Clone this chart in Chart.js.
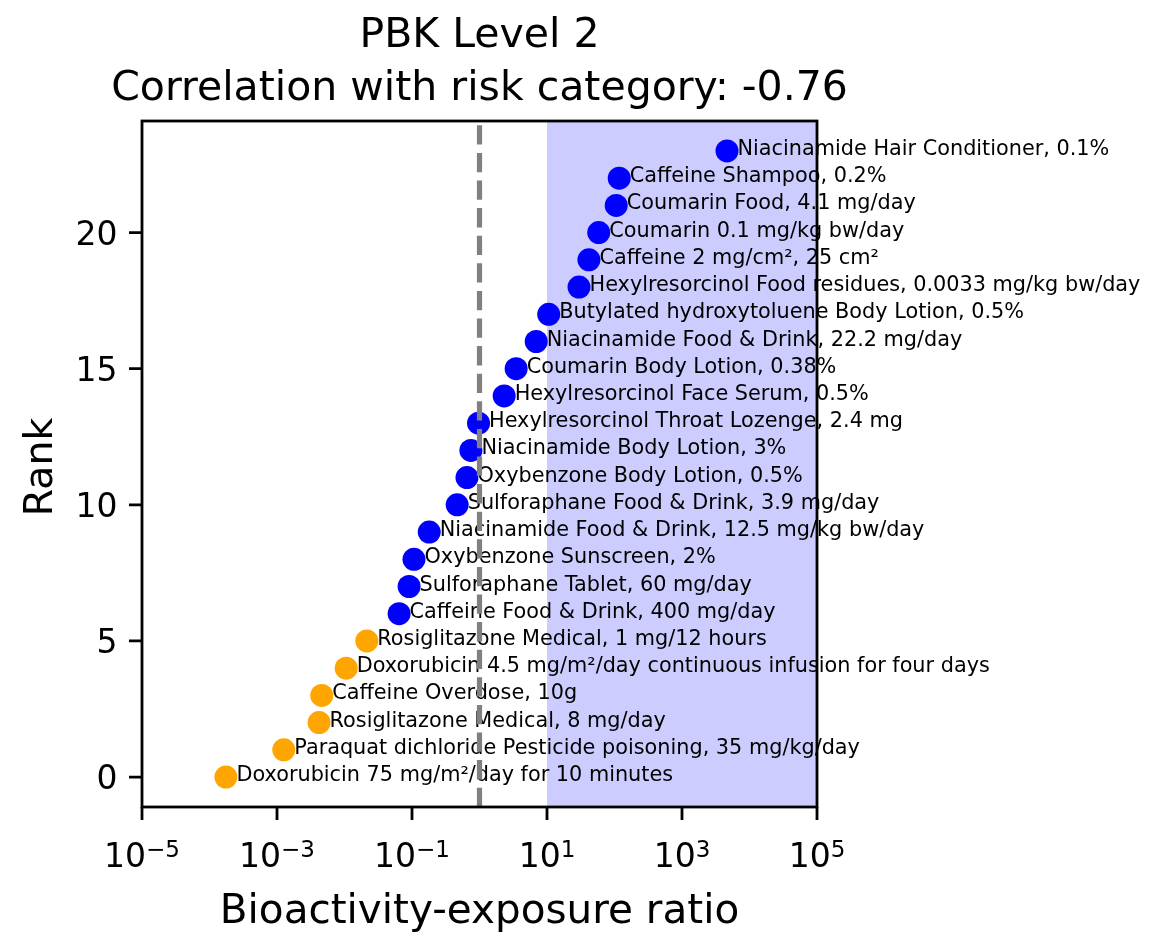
<!DOCTYPE html>
<html><head><meta charset="utf-8">
<script src="https://cdn.jsdelivr.net/npm/chart.js@4.4.0/dist/chart.umd.min.js"></script>
<style>html,body{margin:0;padding:0;background:#fff;} canvas{display:block;}</style>
</head><body>
<canvas id="c" width="1151" height="937"></canvas>
<script>
// ---- data ----
const titleLines = ['PBK Level 2', 'Correlation with risk category: -0.76'];
const xAxisLabel = 'Bioactivity-exposure ratio';
const yAxisLabel = 'Rank';
const labels = [
  'Doxorubicin 75 mg/m\u00b2/day for 10 minutes',
  'Paraquat dichloride Pesticide poisoning, 35 mg/kg/day',
  'Rosiglitazone Medical, 8 mg/day',
  'Caffeine Overdose, 10g',
  'Doxorubicin 4.5 mg/m\u00b2/day continuous infusion for four days',
  'Rosiglitazone Medical, 1 mg/12 hours',
  'Caffeine Food & Drink, 400 mg/day',
  'Sulforaphane Tablet, 60 mg/day',
  'Oxybenzone Sunscreen, 2%',
  'Niacinamide Food & Drink, 12.5 mg/kg bw/day',
  'Sulforaphane Food & Drink, 3.9 mg/day',
  'Oxybenzone Body Lotion, 0.5%',
  'Niacinamide Body Lotion, 3%',
  'Hexylresorcinol Throat Lozenge, 2.4 mg',
  'Hexylresorcinol Face Serum, 0.5%',
  'Coumarin Body Lotion, 0.38%',
  'Niacinamide Food & Drink, 22.2 mg/day',
  'Butylated hydroxytoluene Body Lotion, 0.5%',
  'Hexylresorcinol Food residues, 0.0033 mg/kg bw/day',
  'Caffeine 2 mg/cm\u00b2, 25 cm\u00b2',
  'Coumarin 0.1 mg/kg bw/day',
  'Coumarin Food, 4.1 mg/day',
  'Caffeine Shampoo, 0.2%',
  'Niacinamide Hair Conditioner, 0.1%'
];
const ranks = [0,1,2,3,4,5,6,7,8,9,10,11,12,13,14,15,16,17,18,19,20,21,22,23];
const ratios = [0.000175, 0.00126, 0.0042, 0.0046, 0.0106, 0.0214, 0.0644, 0.0906, 0.107, 0.18,
                0.467, 0.652, 0.746, 0.968, 2.32, 3.49, 6.92, 10.6, 29.8, 41.8, 58.4, 106, 117.5, 4645];
const categories = ['high','high','high','high','high','high',
  'low','low','low','low','low','low','low','low','low','low','low','low','low','low','low','low','low','low'];
const categoryColors = {high: '#ffa500', low: '#0000ff'};
const xTickExponents = [-5, -3, -1, 1, 3, 5];
const yTicks = [0, 5, 10, 15, 20];
const thresholdLine = 1;
const shadeRange = [10, 100000];

// ---- drawing ----
const FONT = '"DejaVu Sans", sans-serif';
const deco = {
  id: 'deco',
  beforeDatasetsDraw(chart) {
    const {ctx, chartArea: a, scales: {x}} = chart;
    ctx.save();
    ctx.fillStyle = 'rgba(0,0,255,0.2)';
    const x0 = x.getPixelForValue(shadeRange[0]), x1 = x.getPixelForValue(shadeRange[1]);
    ctx.fillRect(x0, a.top, x1 - x0, a.bottom - a.top);
    ctx.restore();
  },
  afterDatasetsDraw(chart) {
    const {ctx, chartArea: a, scales: {x, y}} = chart;
    ctx.save();
    // point labels
    ctx.fillStyle = '#000';
    ctx.font = '20.8px ' + FONT;
    ctx.textAlign = 'left';
    ctx.textBaseline = 'alphabetic';
    labels.forEach((t, i) => {
      ctx.fillText(t, x.getPixelForValue(ratios[i]) + 10.5, y.getPixelForValue(ranks[i]) + 4);
    });
    // dashed threshold line
    const xd = x.getPixelForValue(thresholdLine);
    ctx.strokeStyle = '#808080';
    ctx.lineWidth = 5.2;
    ctx.lineCap = 'butt';
    ctx.setLineDash([19.3, 8.3]);
    ctx.beginPath(); ctx.moveTo(xd, a.bottom); ctx.lineTo(xd, a.top); ctx.stroke();
    ctx.setLineDash([]);
    // spines
    ctx.strokeStyle = '#000';
    ctx.lineWidth = 2.8;
    ctx.strokeRect(a.left, a.top, a.right - a.left, a.bottom - a.top);
    // tick marks
    ctx.beginPath();
    xTickExponents.forEach(e => {
      const px = x.getPixelForValue(Math.pow(10, e));
      ctx.moveTo(px, a.bottom); ctx.lineTo(px, a.bottom + 13);
    });
    yTicks.forEach(v => {
      const py = y.getPixelForValue(v);
      ctx.moveTo(a.left, py); ctx.lineTo(a.left - 13, py);
    });
    ctx.stroke();
    // x tick labels (10^e)
    ctx.fillStyle = '#000';
    xTickExponents.forEach(e => {
      const px = x.getPixelForValue(Math.pow(10, e));
      const base = '10', ex = (e < 0 ? '\u2212' : '') + Math.abs(e);
      ctx.font = '33px ' + FONT;
      const wb = ctx.measureText(base).width;
      ctx.font = '23px ' + FONT;
      const we = ctx.measureText(ex).width;
      const start = px - (wb + we) / 2;
      ctx.textAlign = 'left';
      ctx.font = '33px ' + FONT;
      ctx.fillText(base, start, a.bottom + 60);
      ctx.font = '23px ' + FONT;
      ctx.fillText(ex, start + wb, a.bottom + 49.5);
    });
    // y tick labels
    ctx.font = '33px ' + FONT;
    ctx.textAlign = 'right';
    yTicks.forEach(v => {
      ctx.fillText(String(v), a.left - 24.5, y.getPixelForValue(v) + 12);
    });
    // title
    const cx = (a.left + a.right) / 2;
    ctx.textAlign = 'center';
    ctx.font = '41px ' + FONT;
    ctx.fillText(titleLines[0], cx, 47);
    ctx.fillText(titleLines[1], cx, 99.5);
    // axis labels
    ctx.font = '40.5px ' + FONT;
    ctx.fillText(xAxisLabel, cx, 923);
    ctx.save();
    ctx.translate(51.5, (a.top + a.bottom) / 2 + 3);
    ctx.rotate(-Math.PI / 2);
    ctx.font = '39.5px ' + FONT;
    ctx.fillText(yAxisLabel, 0, 0);
    ctx.restore();
    ctx.restore();
  }
};

const points = ratios.map((v, i) => ({x: v, y: ranks[i]}));
new Chart(document.getElementById('c'), {
  type: 'scatter',
  data: {
    datasets: [{
      data: points,
      pointBackgroundColor: categories.map(c => categoryColors[c]),
      pointBorderWidth: 0,
      pointRadius: 11.5,
      pointHoverRadius: 11.5,
      clip: false
    }]
  },
  options: {
    responsive: false,
    animation: false,
    events: [],
    layout: {padding: {left: 142, right: 334, top: 121, bottom: 130}},
    plugins: {legend: {display: false}, tooltip: {enabled: false}, title: {display: false}},
    scales: {
      x: {type: 'logarithmic', min: 1e-5, max: 1e5, display: false},
      y: {type: 'linear', min: -1.1, max: 24.1, display: false}
    }
  },
  plugins: [deco]
});
</script>
</body></html>
